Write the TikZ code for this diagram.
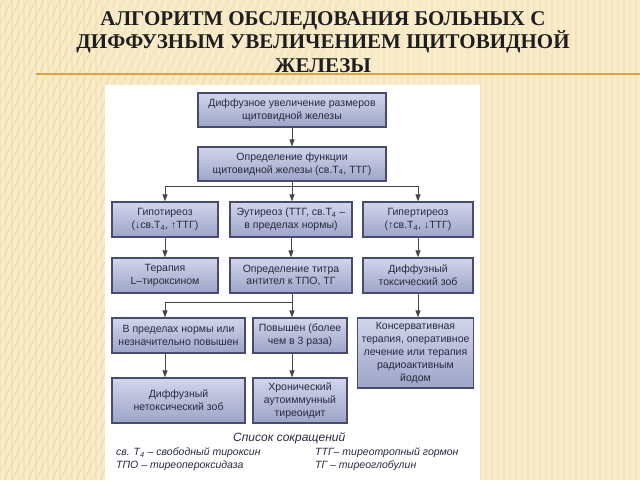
\documentclass[tikz,border=0pt]{standalone}
\usepackage{fontspec}
\setmainfont{Liberation Serif}
\setsansfont{Liberation Sans}
\usetikzlibrary{arrows.meta}
\definecolor{bgcol}{HTML}{F8ECCB}
\definecolor{stripecol}{HTML}{EBD39C}
\definecolor{goldline}{HTML}{D8A445}
\definecolor{titlecol}{HTML}{1E1E1E}
\definecolor{boxline}{HTML}{474C6C}
\definecolor{boxtop}{HTML}{D2D5EB}
\definecolor{boxbot}{HTML}{9EA4C8}
\definecolor{boxtext}{HTML}{262A40}
\definecolor{arrcol}{HTML}{464646}
\tikzset{
  fc/.style={draw=boxline, line width=1.2pt, top color=boxtop, bottom color=boxbot,
    text=boxtext, font=\sffamily\fontsize{10.5}{12.8}\selectfont, align=center,
    inner sep=0pt, minimum height=35pt},
  arr/.style={draw=arrcol, line width=1pt, -{Triangle[length=7pt,width=5pt]}},
  ln/.style={draw=arrcol, line width=1pt},
  legend/.style={anchor=west, inner sep=0pt, text=boxtext,
    font=\sffamily\itshape\fontsize{10.5}{12}\selectfont},
  stripe/.style={draw=stripecol, line width=1.2pt, opacity=0.55},
}
\begin{document}
\begin{tikzpicture}[x=1pt,y=-1pt]
\useasboundingbox (0,0) rectangle (640,480);
% background
\fill[bgcol] (0,0) rectangle (640,480);
\begin{scope}
  \clip (0,0) rectangle (640,480);
  \foreach \i in {0,6,...,640} \draw[stripe, opacity=0.25] (\i,0) -- (\i,480);
  \foreach \i in {-260,-252,...,110} \draw[stripe] (\i,480) -- (\i+240,0);
\end{scope}
\fill[bgcol, opacity=0.5] (105,0) rectangle (480,74);
% title
\node[font=\bfseries\fontsize{21}{23.5}\selectfont, text=titlecol, align=center, inner sep=0pt]
  (title) at (323,42) {АЛГОРИТМ ОБСЛЕДОВАНИЯ БОЛЬНЫХ С\\ДИФФУЗНЫМ УВЕЛИЧЕНИЕМ ЩИТОВИДНОЙ\\ЖЕЛЕЗЫ};
\draw[goldline, line width=1.2pt] (36,74) -- (640,74);
% white panel
\fill[white] (105,85) rectangle (480,480);
% boxes
\node[fc, minimum width=188pt, minimum height=34pt] (b1) at (292,110) {Диффузное увеличение размеров\\щитовидной железы};
\node[fc, minimum width=188pt, minimum height=34pt] (b2) at (292,164) {Определение функции\\щитовидной железы (св.Т\textsubscript{4}, ТТГ)};
\node[fc, minimum width=106pt] (l3) at (165,219.5) {Гипотиреоз\\(↓св.Т\textsubscript{4}, ↑ТТГ)};
\node[fc, minimum width=122pt] (m3) at (291,219.5) {Эутиреоз (ТТГ, св.Т\textsubscript{4} –\\в пределах нормы)};
\node[fc, minimum width=110pt] (r3) at (418,219.5) {Гипертиреоз\\(↑св.Т\textsubscript{4}, ↓ТТГ)};
\node[fc, minimum width=106pt] (l4) at (165,275.5) {Терапия\\L–тироксином};
\node[fc, minimum width=122pt] (m4) at (291,275.5) {Определение титра\\антител к ТПО, ТГ};
\node[fc, minimum width=110pt] (r4) at (418,275.5) {Диффузный\\токсический зоб};
\node[fc, minimum width=133pt] (l5) at (178.5,335.5) {В пределах нормы или\\незначительно повышен};
\node[fc, minimum width=94pt] (m5) at (300,335.5) {Повышен (более\\чем в 3 раза)};
\node[fc, minimum width=116pt, minimum height=70pt] (r5) at (415.5,353) {Консервативная\\терапия, оперативное\\лечение или терапия\\радиоактивным\\йодом};
\node[fc, minimum width=133pt, minimum height=45pt] (l6) at (178.5,400.5) {Диффузный\\нетоксический зоб};
\node[fc, minimum width=94pt, minimum height=45pt] (m6) at (300,400.5) {Хронический\\аутоиммунный\\тиреоидит};
% connectors
\draw[arr] (b1) -- (b2);
\coordinate (br1) at (292,186);
\draw[ln] (b2) -- (br1);
\draw[arr] (br1) -| (l3.north);
\draw[arr] (br1) -- (br1 |- m3.north);
\draw[arr] (br1) -| (r3.north);
\draw[arr] (l3) -- (l4);
\draw[arr] (m3) -- (m4);
\draw[arr] (r3) -- (r4);
\coordinate (br2) at (292,302);
\draw[ln] (br2 |- m4.south) -- (br2);
\draw[arr] (br2) -| (l4.south |- l5.north);
\draw[arr] (br2) -- (br2 |- m5.north);
\draw[arr] (r4.south) -- (r4.south |- r5.north);
\draw[arr] (l4.south |- l5.south) -- (l4.south |- l6.north);
\draw[arr] (br2 |- m5.south) -- (br2 |- m6.north);
% legend
\node[legend, font=\sffamily\itshape\fontsize{12}{14}\selectfont] (lt) at (233,438) {Список сокращений};
\node[legend] (lg1) at (116,453) {св. Т\textsubscript{4} – свободный тироксин};
\node[legend] (lg2) at (116,466) {ТПО – тиреопероксидаза};
\node[legend] (lg3) at (315,453) {ТТГ– тиреотропный гормон};
\node[legend] (lg4) at (315,466) {ТГ – тиреоглобулин};
\end{tikzpicture}
\end{document}
